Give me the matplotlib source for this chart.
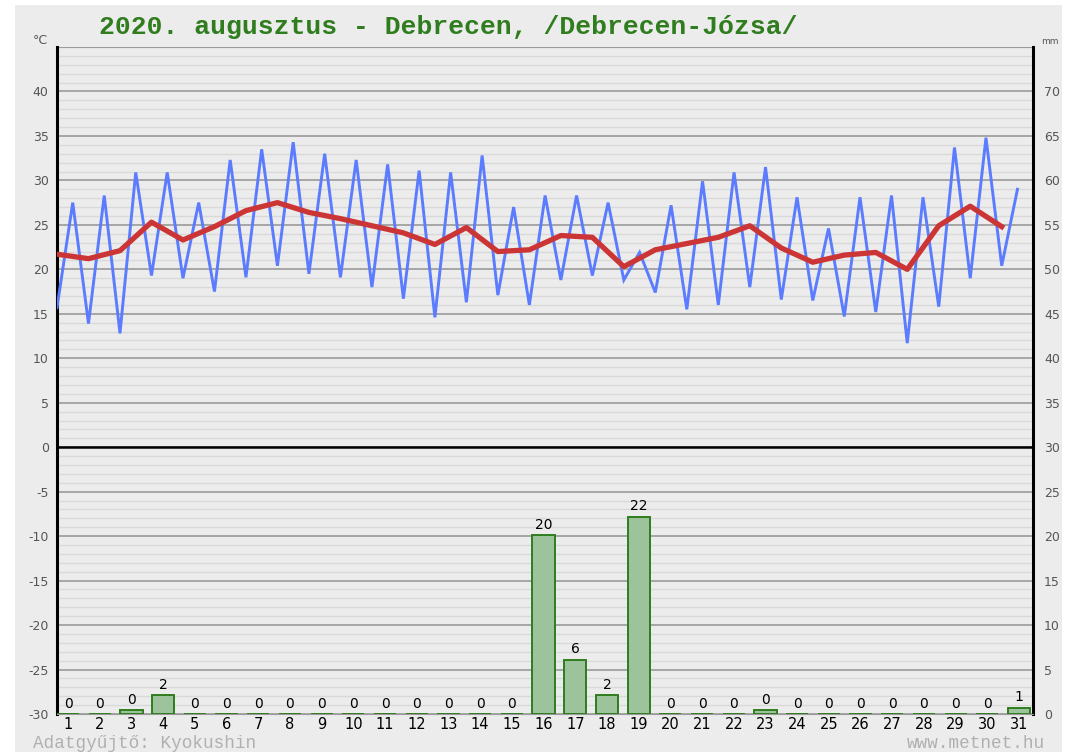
import numpy as np
import matplotlib
matplotlib.use("Agg")
import matplotlib.pyplot as plt
from matplotlib.patches import Rectangle

plt.rcParams["axes.unicode_minus"] = False

# daily data, 2020 August, Debrecen-Józsa
days = list(range(1, 32))
t_min = [15.7, 13.9, 12.8, 19.3, 19.0, 17.5, 19.1, 20.4, 19.5, 19.1,
         18.0, 16.7, 14.6, 16.3, 17.1, 16.0, 18.8, 19.3, 18.8, 17.4,
         15.5, 16.0, 18.0, 16.6, 16.5, 14.7, 15.2, 11.7, 15.8, 19.0, 20.4]
t_max = [27.5, 28.3, 30.9, 30.9, 27.5, 32.3, 33.5, 34.3, 33.0, 32.3,
         31.8, 31.1, 30.9, 32.8, 27.0, 28.3, 28.3, 27.5, 21.9, 27.2,
         29.9, 30.9, 31.5, 28.1, 24.6, 28.1, 28.3, 28.1, 33.7, 34.8, 29.0]
t_avg = [21.7, 21.2, 22.1, 25.3, 23.3, 24.8, 26.6, 27.5, 26.4, 25.7,
         24.9, 24.1, 22.8, 24.7, 22.0, 22.2, 23.8, 23.6, 20.3, 22.2,
         22.9, 23.6, 24.9, 22.4, 20.8, 21.6, 21.9, 20.0, 24.9, 27.1, 24.8]
precip = [0, 0, 0.4, 2.1, 0, 0, 0, 0, 0, 0, 0, 0, 0, 0, 0, 20.1,
          6.1, 2.1, 22.2, 0, 0, 0, 0.4, 0, 0, 0, 0, 0, 0, 0, 0.7]

title = "2020. augusztus - Debrecen, /Debrecen-Józsa/"
temp_ticks = list(range(-30, 45, 5))
mm_ticks = list(range(0, 75, 5))

W, H = 1075, 752
BG = "#ececec"

fig = plt.figure(figsize=(W / 100, H / 100), dpi=100, facecolor="white")
fig.patches.append(Rectangle((15 / W, 0), (1062 - 15) / W, (H - 5) / H,
                             transform=fig.transFigure, facecolor=BG,
                             edgecolor="none", zorder=-10))

left, right, top, bottom = 57, 1033, 47, 714
ax = fig.add_axes([left / W, (H - bottom) / H, (right - left) / W, (bottom - top) / H])
ax.set_facecolor(BG)
ax.set_xlim(0.65, 31.44)
ax.set_ylim(-30, 45)
ax.set_axisbelow(True)

# grid
ax.set_yticks(temp_ticks)
ax.set_yticks(np.arange(-30, 46, 1), minor=True)
ax.grid(axis="y", which="minor", color="#d9d9d9", lw=1.0)
ax.grid(axis="y", which="major", color="#9a9a9a", lw=1.2)
ax.axhline(0, color="black", lw=1.8, zorder=2)
ax.axhline(45, color="#9a9a9a", lw=1.5, zorder=2)

# temperature: min/max zigzag, daily mean
x_line = np.linspace(0.65, 30.95, 62)
y_line = np.column_stack([t_min, t_max]).ravel()
ax.plot(x_line, y_line, color="#5b7cff", lw=2.1, zorder=3, solid_joinstyle="miter")
ax.plot(x_line[::2], t_avg, color="#cc3535", lw=3.8, zorder=4)

ax.set_xticks(days)
ax.set_xticklabels([str(d) for d in days], fontsize=10.5, color="black")
ax.tick_params(axis="x", length=0, pad=2)
ax.tick_params(axis="y", which="both", length=0, pad=6, labelsize=9, labelcolor="#555555")

for s in ["left", "right"]:
    ax.spines[s].set_color("black")
    ax.spines[s].set_linewidth(2.2)
ax.spines["top"].set_visible(False)
ax.spines["bottom"].set_color("#9a9a9a")

# precipitation on the mm axis
ax2 = ax.twinx()
ax2.set_ylim(0, 75)
ax2.set_yticks(mm_ticks)
ax2.tick_params(axis="y", length=0, pad=8, labelsize=9, labelcolor="#555555")
for s in ax2.spines.values():
    s.set_visible(False)
ax2.bar(days, precip, width=0.7, color="#9cc39b", edgecolor="#2f7d1e",
        lw=1.4, zorder=3)
for d, p in zip(days, precip):
    ax2.annotate(f"{round(p)}", (d, p), xytext=(0, 2.5), textcoords="offset points",
                 ha="center", va="bottom", fontsize=10, color="black")

fig.text(40 / W, 1 - 40 / H, "°C", fontsize=9, color="#555555", ha="center", va="center")
fig.text(1050 / W, 1 - 42 / H, "mm", fontsize=6.5, color="#555555", ha="center", va="center")
fig.text(448 / W, 1 - 27 / H, title, family="Liberation Mono", fontsize=19,
         fontweight="bold", color="#2f7d1e", ha="center", va="center")
fig.text(33 / W, 1 - 744 / H, "Adatgyűjtő: Kyokushin", family="Liberation Mono",
         fontsize=12.7, color="#b0b0b0", ha="left", va="center")
fig.text(1045 / W, 1 - 744 / H, "www.metnet.hu", family="Liberation Mono",
         fontsize=12.7, color="#b0b0b0", ha="right", va="center")

fig.savefig("out.png", dpi=100, facecolor=fig.get_facecolor())
